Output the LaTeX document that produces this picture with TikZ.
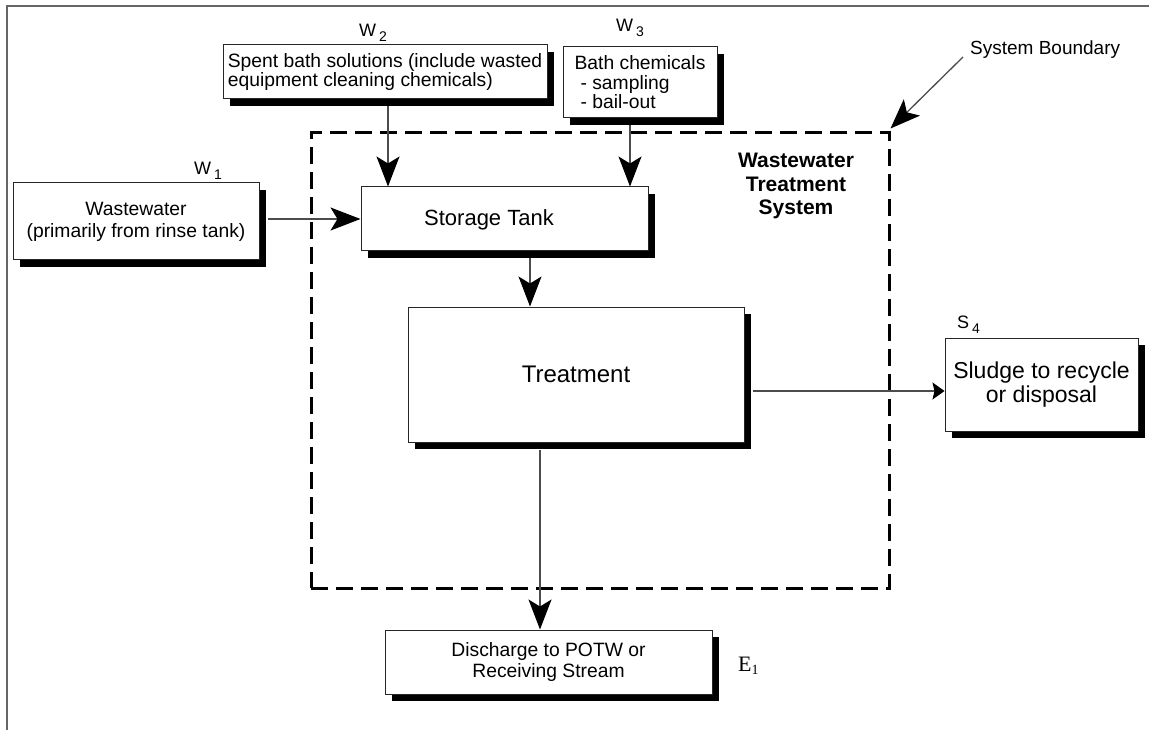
\documentclass[tikz,border=0pt]{standalone}
\usepackage{fontspec}
\setmainfont{Liberation Sans}
\newfontfamily\serifE{Liberation Serif}
\usetikzlibrary{arrows.meta,shadows}
\begin{document}
\begin{tikzpicture}[x=1pt,y=-1pt,
  box/.style={draw=black!85, line width=1pt, fill=white, rectangle, inner sep=0pt,
     drop shadow={shadow xshift=7pt, shadow yshift=-7pt, opacity=1, fill=black}},
  lab/.style={font=\fontsize{18}{18}\selectfont, inner sep=0pt},
  arr/.style={draw=black!70, line width=1.3pt, -{Stealth[length=30pt,width=23pt,inset=7pt,color=black]}},
  arrs/.style={draw=black!70, line width=1.3pt, -{Stealth[length=12pt,width=17pt,inset=2pt,color=black]}},
  boundary/.style={draw=black, line width=3pt, dash pattern=on 17pt off 8pt, rectangle, inner sep=0pt}
]
\useasboundingbox (0,0) rectangle (1149,730);
\fill[white] (0,0) rectangle (1149,730);
% outer frame
\draw[draw=black!60, line width=2pt] (7,731) -- (7,6) -- (1150,6);

% boxes
\node[box, minimum width=246pt, minimum height=77pt, align=center,
      font=\fontsize{19.3}{22}\selectfont] (w1) at (136,221.5)
      {Wastewater\\(primarily from rinse tank)};
\node[box, minimum width=324pt, minimum height=54pt, align=left,
      font=\fontsize{19.3}{19.5}\selectfont] (w2) at (385,72)
      {Spent bath solutions (include wasted\\equipment cleaning chemicals)};
\node[box, minimum width=154pt, minimum height=71pt, align=left,
      font=\fontsize{19.3}{19.5}\selectfont] (w3) at (640,82.5)
      {Bath chemicals\\\hspace*{6pt}- sampling\\\hspace*{6pt}- bail-out};
\node[box, minimum width=287pt, minimum height=64pt] (st) at (504.5,219) {};
\node[anchor=base, inner sep=0pt, font=\fontsize{22}{22}\selectfont] (stl) at (489,226) {Storage Tank};
\node[box, minimum width=336pt, minimum height=135pt, font=\fontsize{24}{24}\selectfont] (tr) at (576,374.5) {Treatment};
\node[box, minimum width=193pt, minimum height=93pt, align=center,
      font=\fontsize{23}{24}\selectfont] (sl) at (1041.5,384.5)
      {Sludge to recycle\\or disposal};
\node[box, minimum width=327pt, minimum height=64pt, align=center,
      font=\fontsize{19.3}{21}\selectfont] (dc) at (548.5,662)
      {Discharge to POTW or\\Receiving Stream};

% boundary
\node[boundary, minimum width=578pt, minimum height=455pt] (bd) at (600,360.5) {};
\node[align=center, inner sep=0pt, font=\bfseries\fontsize{21}{23.5}\selectfont] (wts) at (796,186)
      {Wastewater\\Treatment\\System};

% labels
\node[lab, anchor=base west] (w1l) at (194,175) {W\,\raisebox{-5pt}{\fontsize{14}{14}\selectfont 1}};
\node[lab, anchor=base west] (w2l) at (359,37) {W\,\raisebox{-5pt}{\fontsize{14}{14}\selectfont 2}};
\node[lab, anchor=base west] (w3l) at (616,32) {W\,\raisebox{-5pt}{\fontsize{14}{14}\selectfont 3}};
\node[lab, anchor=base west] (s4l) at (957,328) {S\,\raisebox{-5pt}{\fontsize{14}{14}\selectfont 4}};
\node[anchor=base west, inner sep=0pt] (e1) at (738,671)
      {\serifE\fontsize{22}{22}\selectfont E\raisebox{-3pt}{\fontsize{14}{14}\selectfont 1}};
\node[anchor=base west, inner sep=0pt, font=\fontsize{19}{19}\selectfont] (sb) at (970,55) {System Boundary};
\coordinate (sbs) at (963,57);
\coordinate (trs) at ([xshift=8pt,yshift=-16.5pt]tr.east);

% connectors
\draw[arr] ([xshift=8pt]w1.east |- st.west) -- (st.west);
\draw[arr] ([xshift=3pt,yshift=-7pt]w2.south) -- ([xshift=3pt]w2.south |- st.north);
\draw[arr] ([xshift=-10pt,yshift=-7pt]w3.south) -- ([xshift=-10pt]w3.south |- st.north);
\draw[arr] ([xshift=25.5pt,yshift=-7pt]st.south) -- ([xshift=25.5pt]st.south |- tr.north);
\draw[arrs] (trs) -- (sl.west |- trs);
\draw[arr] ([xshift=-36pt,yshift=-7pt]tr.south) -- ([xshift=-36pt]tr.south |- dc.north);
\draw[arr] (sbs) -- ([yshift=3pt]bd.north east);
\end{tikzpicture}
\end{document}
